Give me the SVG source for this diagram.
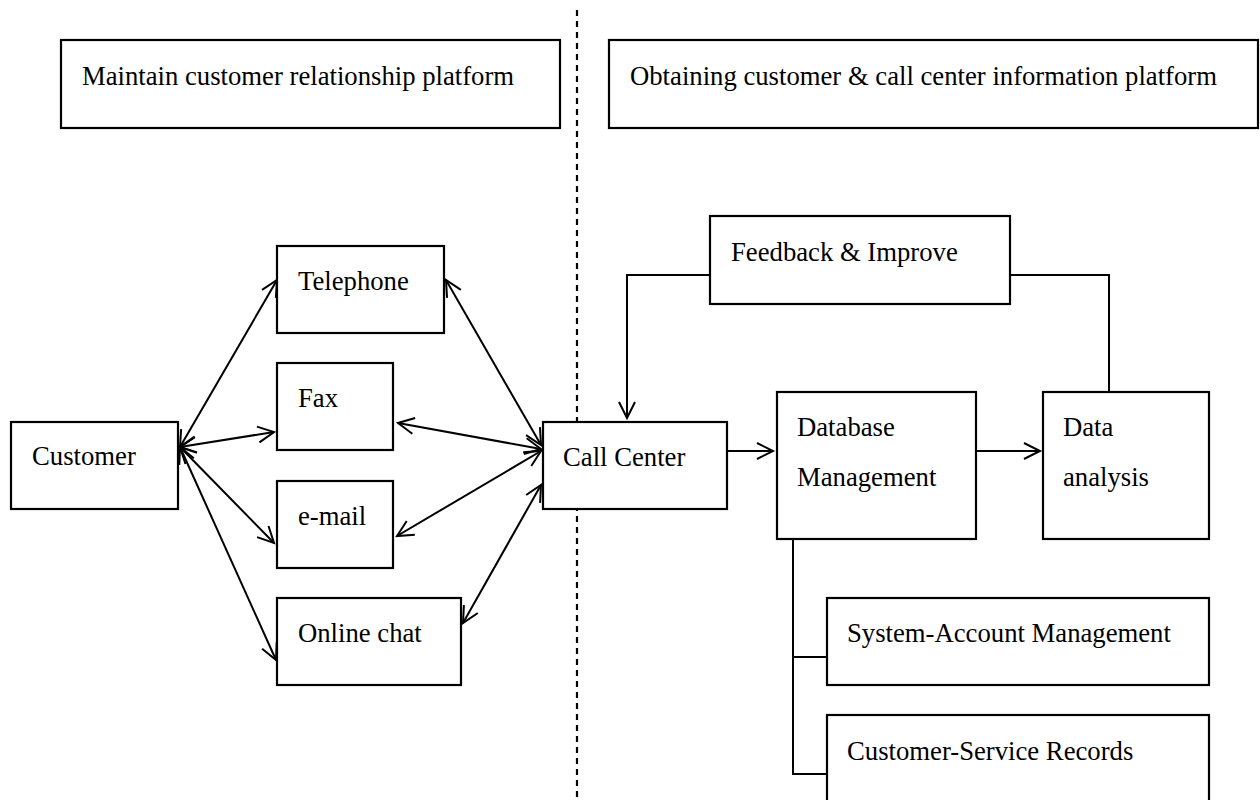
<svg xmlns="http://www.w3.org/2000/svg" width="1260" height="800" viewBox="0 0 1260 800">
<style>
.box{fill:#fff;stroke:#000;stroke-width:2.2}
.t{font-family:"Liberation Serif","Times New Roman",serif;font-size:26.7px;fill:#000}
.ln{fill:none;stroke:#000;stroke-width:2}
.arr{marker-end:url(#ah)}
.dbl{marker-start:url(#ah);marker-end:url(#ah)}
</style>
<defs>
<marker id="ah" markerUnits="userSpaceOnUse" markerWidth="20" markerHeight="20" viewBox="-18 -10 20 20" refX="0" refY="0" orient="auto-start-reverse" overflow="visible">
<path d="M-16,-8 L0,0 L-16,8" fill="none" stroke="#000" stroke-width="2"/>
</marker>
</defs>
<rect width="1260" height="800" fill="#fff"/>
<line x1="577" y1="10" x2="577" y2="800" stroke="#000" stroke-width="2.2" stroke-dasharray="6 5"/>
<g id="connectors">
<line class="ln dbl" x1="180" y1="447" x2="277" y2="280"/>
<line class="ln dbl" x1="180" y1="447" x2="274" y2="432"/>
<line class="ln dbl" x1="180" y1="447" x2="274" y2="543"/>
<line class="ln dbl" x1="180" y1="447" x2="276" y2="660"/>
<line class="ln dbl" x1="446" y1="280" x2="541" y2="445"/>
<line class="ln dbl" x1="398" y1="423" x2="541" y2="449"/>
<line class="ln dbl" x1="397" y1="536" x2="541" y2="451"/>
<line class="ln dbl" x1="463" y1="623" x2="541" y2="485"/>
<line class="ln arr" x1="727" y1="451" x2="773" y2="451"/>
<line class="ln arr" x1="976" y1="451" x2="1040" y2="451"/>
<polyline class="ln arr" points="710,275 627,275 627,418"/>
<polyline class="ln" points="1010,275 1109,275 1109,392"/>
<polyline class="ln" points="793,539 793,774 827,774"/>
<line class="ln" x1="793" y1="657" x2="827" y2="657"/>
</g>
<g id="maintain"><rect class="box" x="61" y="40" width="499" height="88"/><text class="t" x="82" y="85">Maintain customer relationship platform</text></g>
<g id="obtaining"><rect class="box" x="609" y="40" width="649" height="88"/><text class="t" x="630" y="85">Obtaining customer &amp; call center information platform</text></g>
<g id="customer"><rect class="box" x="11" y="422" width="167" height="87"/><text class="t" x="32" y="465">Customer</text></g>
<g id="telephone"><rect class="box" x="277" y="246" width="167" height="87"/><text class="t" x="298" y="290">Telephone</text></g>
<g id="fax"><rect class="box" x="277" y="363" width="116" height="87"/><text class="t" x="298" y="407">Fax</text></g>
<g id="email"><rect class="box" x="277" y="481" width="116" height="87"/><text class="t" x="298" y="525">e-mail</text></g>
<g id="onlinechat"><rect class="box" x="277" y="598" width="184" height="87"/><text class="t" x="298" y="642">Online chat</text></g>
<g id="callcenter"><rect class="box" x="543" y="422" width="184" height="87"/><text class="t" x="563" y="466">Call Center</text></g>
<g id="feedback"><rect class="box" x="710" y="216" width="300" height="88"/><text class="t" x="731" y="261">Feedback &amp; Improve</text></g>
<g id="database"><rect class="box" x="777" y="392" width="199" height="147"/><text class="t" x="797" y="436">Database</text><text class="t" x="797" y="486">Management</text></g>
<g id="dataanalysis"><rect class="box" x="1043" y="392" width="166" height="147"/><text class="t" x="1063" y="436">Data</text><text class="t" x="1063" y="486">analysis</text></g>
<g id="system"><rect class="box" x="827" y="598" width="382" height="87"/><text class="t" x="847" y="642">System-Account Management</text></g>
<g id="records"><rect class="box" x="827" y="715" width="382" height="100"/><text class="t" x="847" y="760">Customer-Service Records</text></g>
</svg>
